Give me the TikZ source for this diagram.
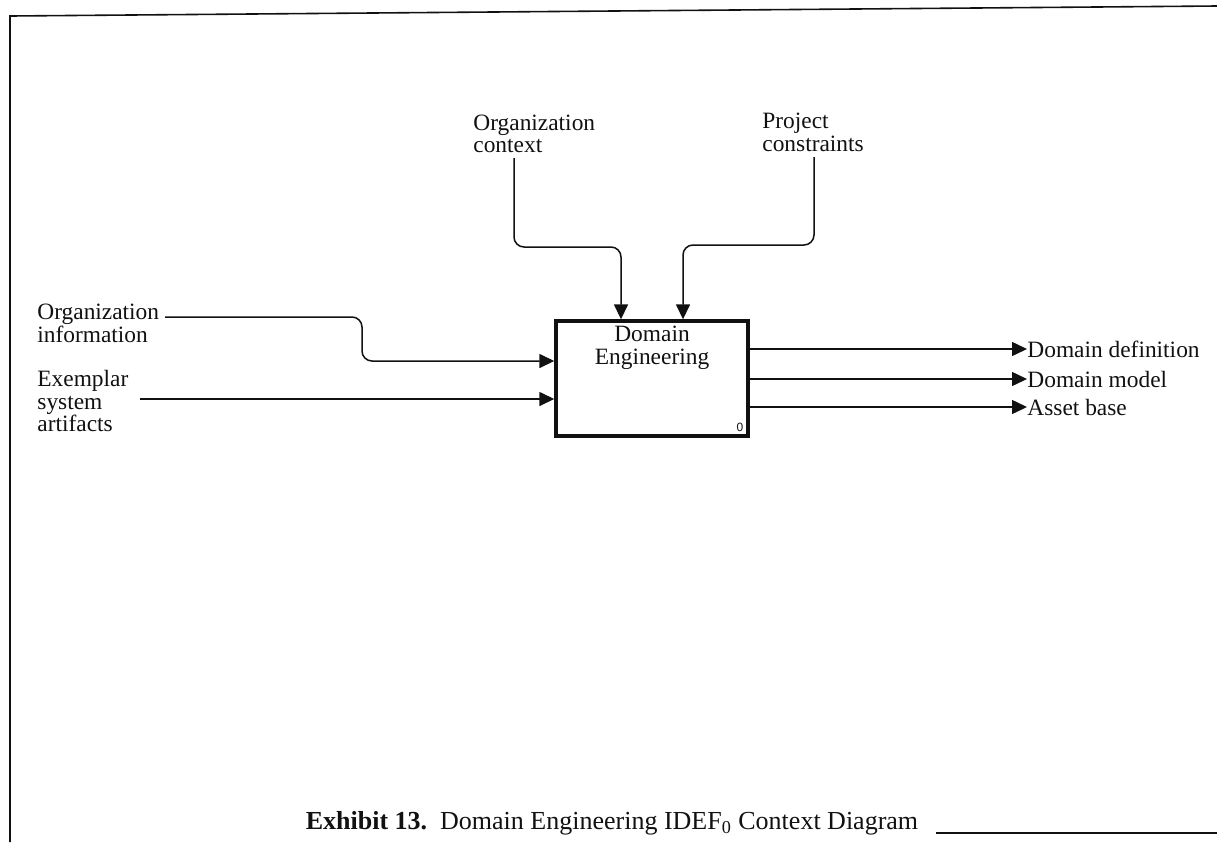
\documentclass[tikz,border=0pt]{standalone}
\usepackage{fontspec}
\setmainfont{Liberation Serif}
\newfontfamily\idxfont{Liberation Sans}
\usepackage{xcolor}
\usepackage{tikz}
\usetikzlibrary{arrows.meta,calc,positioning}
\definecolor{ink}{HTML}{111111}
\tikzset{
  frame/.style={draw=ink,line width=0.8pt},
  flow/.style={draw=ink,line width=0.75pt,rounded corners=5pt,-{Triangle[length=7.5pt,width=7pt]}},
  procbox/.style={draw=ink,line width=1.7pt,minimum width=96pt,minimum height=57.5pt,inner sep=0pt},
  lbl/.style={font=\fontsize{11.7}{11.3}\selectfont,align=left,inner sep=0pt,text=ink},
  boxlbl/.style={font=\fontsize{11.7}{11.5}\selectfont,align=center,inner sep=0pt,text=ink},
  idx/.style={font=\idxfont\fontsize{6}{7}\selectfont,inner sep=0pt,text=ink},
  caption/.style={font=\fontsize{13}{15}\selectfont,inner sep=0pt,text=ink},
}
\begin{document}
\begin{tikzpicture}[x=0.5pt,y=-0.5pt]
  \useasboundingbox (0,0) rectangle (1217,842);
  % page frame
  \draw[frame] (10,842) -- (10,16) -- (1217,6);
  \draw[frame] (936,833) -- (1217,833);

  % activity box
  \node[procbox] (de) at (652,378.5) {};
  \node[boxlbl,anchor=north] (detitle) at ($(de.north)+(0,6)$) {Domain\\Engineering};
  \node[idx,anchor=south east] (denum) at ($(de.south east)+(-6,-6)$) {0};

  % controls
  \node[lbl,anchor=west] (orgctx) at (473,134) {Organization\\context};
  \node[lbl,anchor=west] (projcon) at (762,132.5) {Project\\constraints};
  \coordinate (ocstart) at (514,158);
  \coordinate (pcstart) at (814,157);
  \draw[flow] (ocstart) -- (514,247) -- (621,247) -- (621,0 |- de.north);
  \draw[flow] (pcstart) -- (814,245) -- (683,245) -- (683,0 |- de.north);

  % inputs
  \node[lbl,anchor=west] (orginfo) at (37,323.5) {Organization\\information};
  \node[lbl,anchor=west] (exsys) at (37,401) {Exemplar\\system\\artifacts};
  \coordinate (oistart) at (165,317);
  \coordinate (esstart) at (140,399);
  \draw[flow] (oistart) -- (362,317) -- (362,361) -- (de.west |- 0,361);
  \draw[flow] (esstart) -- (de.west |- esstart);

  % outputs
  \foreach \y/\n/\t in {349/ddef/Domain definition,379/dmod/Domain model,407/abase/Asset base} {
    \node[lbl,anchor=west] (\n) at (1027,\y) {\t};
    \draw[flow] (de.east |- 0,\y) -- (\n.west);
  }

  \node[caption] (cap) at (612,823) {\textbf{Exhibit 13.}\ \ Domain Engineering IDEF\textsubscript{0} Context Diagram};
\end{tikzpicture}
\end{document}
